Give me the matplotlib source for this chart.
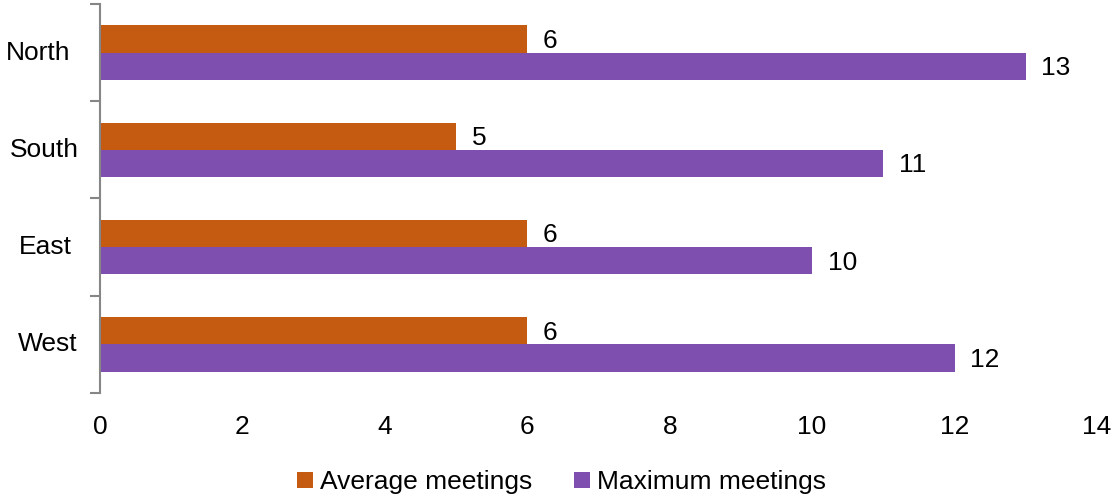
import numpy as np
import matplotlib.pyplot as plt

plt.rcParams['font.family'] = ['Liberation Sans', 'DejaVu Sans']

regions = ['North', 'South', 'East', 'West']
average = [6, 5, 6, 6]
maximum = [13, 11, 10, 12]
xticks = [0, 2, 4, 6, 8, 10, 12, 14]

orange = '#C55A11'
purple = '#7F4FB0'
fs = 19

fig = plt.figure(figsize=(11.14, 4.95), dpi=100)
ax = fig.add_axes([0.0898, 0.206, 0.8949, 0.786])

y = np.arange(len(regions))[::-1].astype(float)
h = 0.28
b1 = ax.barh(y + h / 2, average, height=h, color=orange, label='Average meetings')
b2 = ax.barh(y - h / 2, maximum, height=h, color=purple, label='Maximum meetings')

for bars in (b1, b2):
    for rect in bars:
        w = rect.get_width()
        ax.text(w + 0.22, rect.get_y() + rect.get_height() / 2 - 0.02, f'{w:g}',
                va='center', ha='left', fontsize=fs)

ax.set_xlim(0, 14)
ax.set_ylim(-0.5, len(regions) - 0.5)
ax.set_xticks(xticks)
ax.set_xticklabels([str(t) for t in xticks], fontsize=fs)
ax.tick_params(axis='x', length=0, pad=16)

# category names, each placed left of the axis
label_x = [-0.062, -0.056, -0.055, -0.052]
ax.set_yticks([])
for yi, name, lx in zip(y, regions, label_x):
    ax.text(lx, yi, name, transform=ax.get_yaxis_transform(),
            ha='center', va='center', fontsize=fs)

# boundary ticks between categories
ax.set_yticks(np.arange(-0.5, len(regions)), minor=True)
ax.tick_params(axis='y', which='minor', length=7, width=1.5, color='#868686')

for side in ('top', 'right', 'bottom'):
    ax.spines[side].set_visible(False)
ax.spines['left'].set_color('#868686')
ax.spines['left'].set_linewidth(1.5)

ax.legend(loc='upper center', bbox_to_anchor=(0.463, -0.165), ncol=2, frameon=False,
          fontsize=fs, handlelength=0.6, handleheight=0.6, handletextpad=0.25,
          columnspacing=1.6, borderpad=0)

fig.savefig('out.png', dpi=100)
